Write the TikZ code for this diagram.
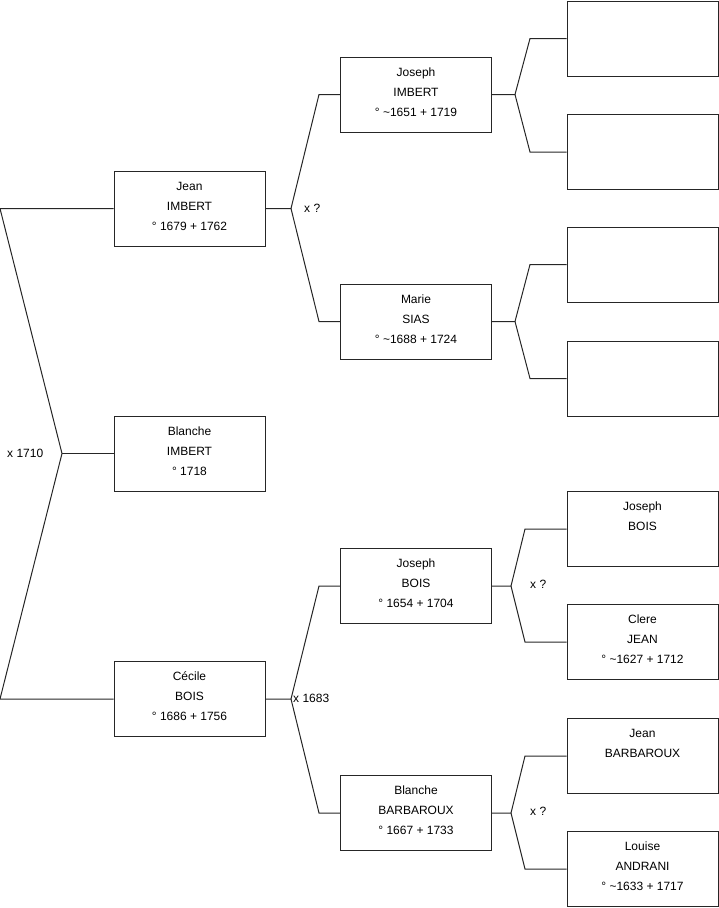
\documentclass[tikz,border=0pt]{standalone}
\usepackage{fontspec}
\setmainfont{Liberation Sans}
\begin{document}
\begin{tikzpicture}[x=1pt,y=-1pt,
  person/.style={draw=black!85, line width=1pt, minimum width=151pt, minimum height=75pt, inner sep=0pt, align=center, font=\fontsize{12}{20}\selectfont},
  link/.style={draw=black!85, line width=1pt},
  lbl/.style={anchor=west, inner sep=0pt, font=\fontsize{12}{14}\selectfont}]
\useasboundingbox (0,0) rectangle (719,908);
\newcommand{\mystrut}{\rule[-8.5pt]{0pt}{20pt}}
\newcommand{\tl}[3]{#1\mystrut\\#2\mystrut\\#3\mystrut}
% generation 1
\node[person] (jean) at (189.5,208.5) {\tl{Jean}{IMBERT}{° 1679 + 1762}};
\node[person] (blanche) at (189.5,453.5) {\tl{Blanche}{IMBERT}{° 1718}};
\node[person] (cecile) at (189.5,699) {\tl{Cécile}{BOIS}{° 1686 + 1756}};
% generation 2
\node[person] (jimbert) at (416,94.5) {\tl{Joseph}{IMBERT}{° \textasciitilde1651 + 1719}};
\node[person] (marie) at (416,321.5) {\tl{Marie}{SIAS}{° \textasciitilde1688 + 1724}};
\node[person] (jbois) at (416,586) {\tl{Joseph}{BOIS}{° 1654 + 1704}};
\node[person] (bbarb) at (416,813) {\tl{Blanche}{BARBAROUX}{° 1667 + 1733}};
% generation 3
\node[person] (e1) at (642.5,38.5) {};
\node[person] (e2) at (642.5,152) {};
\node[person] (e3) at (642.5,264.5) {};
\node[person] (e4) at (642.5,378.5) {};
\node[person] (jbois2) at (642.5,529) {\tl{Joseph}{BOIS}{}};
\node[person] (clere) at (642.5,642) {\tl{Clere}{JEAN}{° \textasciitilde1627 + 1712}};
\node[person] (jbarb) at (642.5,756) {\tl{Jean}{BARBAROUX}{}};
\node[person] (louise) at (642.5,869) {\tl{Louise}{ANDRANI}{° \textasciitilde1633 + 1717}};
% left bracket
\coordinate (a0) at (62,453.5);
\coordinate (t0) at (0,208.5);
\coordinate (b0) at (0,699);
\draw[link] (jean.west) -- (t0) -- (a0) -- (b0) -- (cecile.west);
\draw[link] (a0) -- (blanche.west);
\node[lbl] (l0) at (7,453) {x 1710};
% Jean's parents
\coordinate (a1) at (291,208.5);
\draw[link] (jean.east) -- (a1) -- (319,94.5) -- (jimbert.west);
\draw[link] (a1) -- (319,321.5) -- (marie.west);
\node[lbl] (l1) at (304,208) {x ?};
% Cecile's parents
\coordinate (a2) at (291,699);
\draw[link] (cecile.east) -- (a2) -- (319,586) -- (jbois.west);
\draw[link] (a2) -- (319,813) -- (bbarb.west);
\node[lbl] (l2) at (293,698) {x 1683};
% Joseph IMBERT's parents
\coordinate (a3) at (515,94.5);
\draw[link] (jimbert.east) -- (a3) -- (530,38.5) -- (e1.west);
\draw[link] (a3) -- (530,152) -- (e2.west);
% Marie's parents
\coordinate (a4) at (515,321.5);
\draw[link] (marie.east) -- (a4) -- (530,264.5) -- (e3.west);
\draw[link] (a4) -- (530,378.5) -- (e4.west);
% Joseph BOIS's parents
\coordinate (a5) at (511,586);
\draw[link] (jbois.east) -- (a5) -- (525,529) -- (jbois2.west);
\draw[link] (a5) -- (525,642) -- (clere.west);
\node[lbl] (l5) at (530,584) {x ?};
% Blanche BARBAROUX's parents
\coordinate (a6) at (511,813);
\draw[link] (bbarb.east) -- (a6) -- (525,756) -- (jbarb.west);
\draw[link] (a6) -- (525,869) -- (louise.west);
\node[lbl] (l6) at (530,811) {x ?};
\end{tikzpicture}
\end{document}
